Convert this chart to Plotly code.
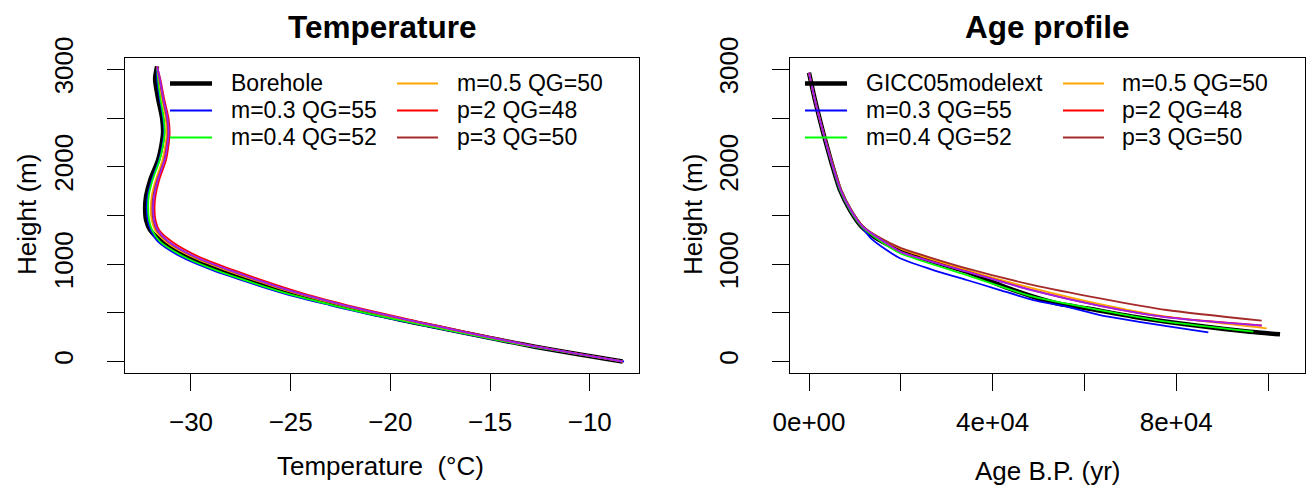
import plotly.graph_objects as go

W, H = 1308, 488

# ---------------- Temperature panel data ----------------
temp_height = [3030, 2900, 2700, 2500, 2350, 2200, 2070, 1860, 1700, 1575, 1450, 1350,
               1230, 1075, 940, 775, 665, 580, 460, 357, 248, 152, 0]
temp_borehole = [-31.7, -31.8, -31.65, -31.45, -31.4, -31.5, -31.65, -32.05, -32.25, -32.3, -32.25, -32.05,
                 -31.45, -30.15, -28.5, -26.1, -24.3, -22.65, -20.15, -17.75, -15.15, -12.75, -8.35]
temp_m03 = [-31.7, -31.7, -31.57, -31.4, -31.35, -31.45, -31.6, -31.97, -32.17, -32.22, -32.17, -32.02,
            -31.65, -30.5, -28.95, -26.55, -24.75, -23.05, -20.5, -18.03, -15.35, -12.87, -8.28]
temp_m04 = [-31.7, -31.65, -31.53, -31.37, -31.32, -31.42, -31.57, -31.93, -32.12, -32.15, -32.1, -31.95,
            -31.55, -30.35, -28.8, -26.4, -24.6, -22.93, -20.4, -17.95, -15.3, -12.85, -8.35]
temp_m05 = [-31.7, -31.6, -31.45, -31.27, -31.22, -31.3, -31.43, -31.77, -31.97, -32.02, -31.97, -31.8,
            -31.25, -29.95, -28.28, -25.9, -24.12, -22.49, -20.0, -17.63, -15.07, -12.7, -8.35]
temp_p2 = [-31.7, -31.54, -31.35, -31.13, -31.07, -31.14, -31.25, -31.6, -31.78, -31.83, -31.78, -31.6,
           -30.95, -29.6, -27.9, -25.55, -23.8, -22.2, -19.7, -17.4, -14.9, -12.6, -8.35]
temp_p3 = [-31.7, -31.58, -31.41, -31.21, -31.15, -31.23, -31.35, -31.7, -31.89, -31.94, -31.89, -31.72,
           -31.15, -29.83, -28.15, -25.78, -24.0, -22.38, -19.88, -17.55, -15.01, -12.66, -8.35]
temp_extra = [-31.7, -31.56, -31.39, -31.18, -31.12, -31.2, -31.32, -31.67, -31.85, -31.9, -31.85, -31.67,
              -31.12, -29.79, -28.1, -25.74, -23.97, -22.35, -19.85, -17.52, -14.99, -12.65, -8.35]

# ---------------- Age panel data ----------------
age_top = [0, 1300, 3120, 4940, 6750, 8930, 11480]
age_top_h = [2965, 2685, 2343, 2035, 1761, 1555, 1384]

age_gicc = age_top + [14750, 19830, 27080, 34360, 41610, 48870, 54690, 60500, 70660, 85190, 96080, 102620]
age_gicc_h = age_top_h + [1265, 1145, 1025, 922, 785, 665, 590, 546, 460, 364, 306, 279]

age_m03 = age_top + [13500, 16900, 19830, 27080, 34360, 41610, 48870, 56140, 63400, 77930, 87000]
age_m03_h = age_top_h + [1265, 1145, 1060, 939, 837, 734, 631, 563, 477, 364, 300]

age_m04 = age_top + [14750, 19830, 34360, 48870, 63400, 77930, 96810]
age_m04_h = age_top_h + [1262, 1111, 888, 665, 528, 409, 306]

age_m05 = [0, 1300, 3200, 5100, 7000, 9200, 11800, 15000, 19830, 34360, 48870, 63400, 77930, 99710]
age_m05_h = [2965, 2685, 2343, 2035, 1761, 1555, 1384, 1280, 1162, 939, 751, 590, 460, 341]

age_p2 = [0, 1300, 3150, 5000, 6900, 9100, 11700, 15000, 19830, 34360, 48870, 63400, 77930, 98620]
age_p2_h = [2965, 2685, 2343, 2035, 1761, 1555, 1384, 1270, 1130, 925, 730, 572, 455, 370]

age_p3 = [0, 1300, 3200, 5100, 7000, 9200, 11800, 15000, 19830, 34360, 48870, 63400, 77930, 98620]
age_p3_h = [2965, 2685, 2343, 2035, 1761, 1555, 1384, 1282, 1169, 956, 785, 649, 529, 419]

age_extra = [0, 1300, 3150, 5000, 6900, 9100, 11700, 15000, 19830, 34360, 48870, 63400, 77930, 98620]
age_extra_h = [2965, 2685, 2343, 2035, 1761, 1555, 1384, 1272, 1128, 922, 727, 570, 453, 368]

# ---------------- labels ----------------
temp_ticks = [-30, -25, -20, -15, -10]
temp_ticktext = ["\u221230", "\u221225", "\u221220", "\u221215", "\u221210"]
age_ticks = [0, 20000, 40000, 60000, 80000, 100000]
age_ticktext = ["0e+00", "", "4e+04", "", "8e+04", ""]
height_ticks = [0, 500, 1000, 1500, 2000, 2500, 3000]
height_ticktext = ["0", "", "1000", "", "2000", "", "3000"]

temp_legend = ["Borehole", "m=0.3 QG=55", "m=0.4 QG=52", "m=0.5 QG=50", "p=2 QG=48", "p=3 QG=50"]
age_legend = ["GICC05modelext", "m=0.3 QG=55", "m=0.4 QG=52", "m=0.5 QG=50", "p=2 QG=48", "p=3 QG=50"]
colors = ["#000000", "#0000FF", "#00FF00", "#FFA500", "#FF0000", "#A52A2A"]
extra_color = "#A020F0"

FONT = "Liberation Sans, Arial, sans-serif"

fig = go.Figure()

temp_series = [temp_borehole, temp_m03, temp_m04, temp_m05, temp_p2, temp_p3]
for i, t in enumerate(temp_series):
    fig.add_trace(go.Scatter(x=t, y=temp_height, mode="lines", xaxis="x", yaxis="y",
                             line=dict(color=colors[i], width=4.5 if i == 0 else 1.8,
                                       shape="spline", smoothing=0.8),
                             showlegend=False, hoverinfo="skip"))
fig.add_trace(go.Scatter(x=temp_extra, y=temp_height, mode="lines", xaxis="x", yaxis="y",
                         line=dict(color=extra_color, width=1.8, shape="spline", smoothing=0.8),
                         showlegend=False, hoverinfo="skip"))

age_series = [(age_gicc, age_gicc_h), (age_m03, age_m03_h), (age_m04, age_m04_h),
              (age_m05, age_m05_h), (age_p2, age_p2_h), (age_p3, age_p3_h)]
for i, (a, h) in enumerate(age_series):
    fig.add_trace(go.Scatter(x=a, y=h, mode="lines", xaxis="x2", yaxis="y2",
                             line=dict(color=colors[i], width=4.5 if i == 0 else 1.8,
                                       shape="spline", smoothing=0.6),
                             showlegend=False, hoverinfo="skip"))
fig.add_trace(go.Scatter(x=age_extra, y=age_extra_h, mode="lines", xaxis="x2", yaxis="y2",
                         line=dict(color=extra_color, width=1.8, shape="spline", smoothing=0.6),
                         showlegend=False, hoverinfo="skip"))


def px(x):
    return x / W


def py(y):
    return 1 - y / H


ydom = [py(373.3), py(58.3)]
axis_common = dict(showline=True, mirror=True, linecolor="black", linewidth=1.3,
                   ticks="outside", ticklen=17, tickwidth=1.3, tickcolor="black",
                   showgrid=False, zeroline=False, automargin=False,
                   tickfont=dict(family=FONT, size=26, color="black"),
                   tickmode="array")

fig.update_layout(
    template="none",
    width=W, height=H, margin=dict(l=0, r=0, t=0, b=0, pad=0), autosize=False,
    paper_bgcolor="white", plot_bgcolor="white", showlegend=False,
    xaxis=dict(domain=[px(125), px(639)], range=[-33.31, -7.53], anchor="y",
               tickvals=temp_ticks, ticktext=temp_ticktext, ticklabelstandoff=8, **axis_common),
    yaxis=dict(domain=ydom, range=[-121, 3113], anchor="x",
               tickvals=height_ticks, ticktext=height_ticktext, tickangle=-90,
               ticklabelstandoff=23, **axis_common),
    xaxis2=dict(domain=[px(790), px(1305)], range=[-4139, 108060], anchor="y2",
                tickvals=age_ticks, ticktext=age_ticktext, ticklabelstandoff=8, **axis_common),
    yaxis2=dict(domain=ydom, range=[-121, 3113], anchor="x2",
                tickvals=height_ticks, ticktext=height_ticktext, tickangle=-90,
                ticklabelstandoff=23, **axis_common),
)

annotations = []
shapes = []


def text(x, y, s, size=26, bold=False, anchor="center", angle=0):
    annotations.append(dict(x=px(x), y=py(y), xref="paper", yref="paper", text=("<b>%s</b>" % s) if bold else s,
                            showarrow=False, xanchor=anchor, yanchor="middle", textangle=angle,
                            font=dict(family=FONT, size=size, color="black")))


# Titles
text(382, 27, "Temperature", size=31.5, bold=True)
text(1047, 27, "Age profile", size=31.5, bold=True)
# Axis titles
text(380, 466, "Temperature  (\u00b0C)")
text(1047, 471, "Age B.P. (yr)")
text(27, 215, "Height (m)", angle=-90)
text(693, 215, "Height (m)", angle=-90)

# Legends (manual, two columns)
rows = [83.5, 110.5, 137.5]


def legend(labels, col_lines, col_texts):
    for i, lab in enumerate(labels):
        c = i // 3
        r = i % 3
        x0, x1 = col_lines[c]
        shapes.append(dict(type="line", xref="paper", yref="paper", x0=px(x0), x1=px(x1),
                           y0=py(rows[r]), y1=py(rows[r]),
                           line=dict(color=colors[i], width=4.5 if i == 0 else 1.8)))
        text(col_texts[c], rows[r], lab, size=23, anchor="left")


legend(temp_legend, [(170, 212), (397, 438)], [229, 455])
legend(age_legend, [(805, 847), (1063, 1104)], [864, 1120])

fig.update_layout(annotations=annotations, shapes=shapes)

fig.write_html("out.html", config={"displayModeBar": False},
               post_script="document.body.style.margin='0px';document.body.style.padding='0px';"
                           "document.body.style.overflow='hidden';")
